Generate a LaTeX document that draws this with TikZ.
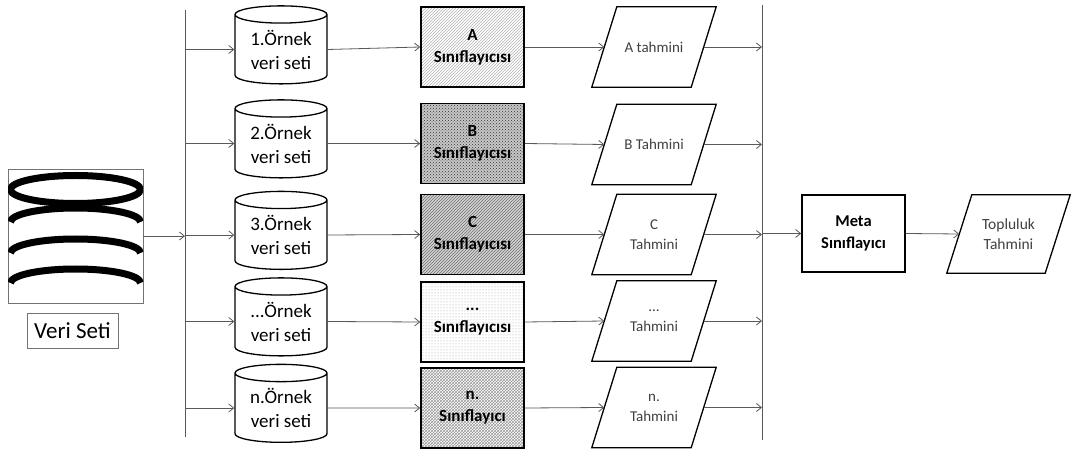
\documentclass[tikz,border=0pt]{standalone}
\usepackage{fontspec}
\setmainfont{Carlito}
\usetikzlibrary{shapes.geometric,patterns,arrows.meta}
\begin{document}
\begin{tikzpicture}[x=1pt,y=-1pt,
  conn/.style={draw=black!65, line width=0.8pt, -{Straight Barb[length=5pt,width=8pt]}},
  bus/.style={draw=black!65, line width=0.8pt},
  sample/.style={cylinder, shape border rotate=90, aspect=0.28, draw, line width=1.3pt,
    minimum width=92pt, minimum height=78pt, align=center, font=\fontsize{19}{24}\selectfont,
    inner sep=0pt},
  clf/.style={rectangle, draw, line width=1.6pt, minimum width=103pt, minimum height=80pt,
    align=center, font=\bfseries\fontsize{17}{22}\selectfont, inner sep=0pt},
  % text area of a parallelogram: its sides pass through the midpoints of the slanted edges
  pred/.style={rectangle, minimum width=99pt, minimum height=80pt,
    align=center, text=black!75, font=\fontsize{15}{20}\selectfont, inner sep=0pt},
  predline/.style={draw, line width=1.3pt, line join=miter},
  patA/.style={pattern=north east lines, pattern color=black!30},
  patB/.style={preaction={fill=black!22}, pattern=crosshatch dots, pattern color=black!80},
  patC/.style={preaction={fill=black!18}, pattern=north east lines, pattern color=black!55},
  patD/.style={pattern=dots, pattern color=black!40},
  patE/.style={pattern=crosshatch, pattern color=black!40},
]
\useasboundingbox (0,0) rectangle (1072,449);

% full data set: a stack of disks inside a thin frame
\node[draw=black!55, line width=0.8pt, minimum width=135pt, minimum height=134pt, inner sep=0pt]
  (data) at (75.5,236) {};
\begin{scope}
  \clip (8,169) rectangle (143,303);
  \draw[line width=7pt] (75.5,189.5) ellipse [x radius=65, y radius=14];
  \foreach \cy in {222,253,283}
    \draw[line width=7pt] (10.5,\cy) arc [start angle=180, end angle=360, x radius=65, y radius=14];
\end{scope}
\node[draw=black!55, line width=0.8pt, minimum width=91pt, minimum height=35pt, inner sep=0pt,
  font=\fontsize{23}{26}\selectfont] (datalbl) at (72.5,330.5) {Veri Seti};

% distribution and collection lines
\coordinate (busLtop) at (185,10);
\coordinate (busLbot) at (185,437);
\coordinate (busRtop) at (762,5);
\coordinate (busRbot) at (762,440);
\draw[bus] (busLtop) -- (busLbot);
\draw[bus] (busRtop) -- (busRbot);

% sample data sets
\node[sample] (s1) at (281,49.5) {1.Örnek\\veri seti};
\node[sample] (s2) at (281,143.5) {2.Örnek\\veri seti};
\node[sample] (s3) at (281,235) {3.Örnek\\veri seti};
\node[sample] (s4) at (281,321.5) {...Örnek\\veri seti};
\node[sample] (s5) at (281,408) {n.Örnek\\veri seti};

% base classifiers
\node[clf, patA] (c1) at (472.5,47) {A\\Sınıflayıcısı};
\node[clf, patB] (c2) at (472.5,143.5) {B\\Sınıflayıcısı};
\node[clf, patC] (c3) at (472.5,234.5) {C\\Sınıflayıcısı};
\node[clf, patD] (c4) at (472.5,322) {...\\Sınıflayıcısı};
\node[clf, patE] (c5) at (472.5,408) {n.\\Sınıflayıcı};

% predictions
\node[pred] (p1) at (654,47) {A tahmini};
\node[pred] (p2) at (654,144.5) {B Tahmini};
\node[pred] (p3) at (654,234.5) {C\\Tahmini};
\node[pred] (p4) at (654,321) {...\\Tahmini};
\node[pred] (p5) at (654,407.5) {n.\\Tahmini};

% meta level
\node[clf, minimum height=77pt, font=\bfseries\fontsize{16.5}{22}\selectfont] (meta) at (853.5,233.5) {Meta\\Sınıflayıcı};
\node[pred, minimum width=98pt, minimum height=78pt, font=\fontsize{15.5}{20}\selectfont] (final) at (1008.5,234) {Topluluk\\Tahmini};

% parallelogram outlines
\foreach \n in {p1,p2,p3,p4,p5,final}
  \draw[predline] ([xshift=-12.5pt]\n.south west) -- ([xshift=12.5pt]\n.north west)
    -- ([xshift=12.5pt]\n.north east) -- ([xshift=-12.5pt]\n.south east) -- cycle;

% connectors
\draw[conn] (data.east) -- (data.east -| busLtop);
\foreach \i in {1,...,5} {
  \draw[conn] (s\i.east) -- (c\i.west);
  \draw[conn] (s\i.west -| busLtop) -- (s\i.west);
  \draw[conn] (c\i.east) -- (p\i.west);
  \draw[conn] (p\i.east) -- (p\i.east -| busRtop);
}
\draw[conn] (meta.west -| busRtop) -- (meta.west);
\draw[conn] (meta.east) -- (final.west);
\end{tikzpicture}
\end{document}
